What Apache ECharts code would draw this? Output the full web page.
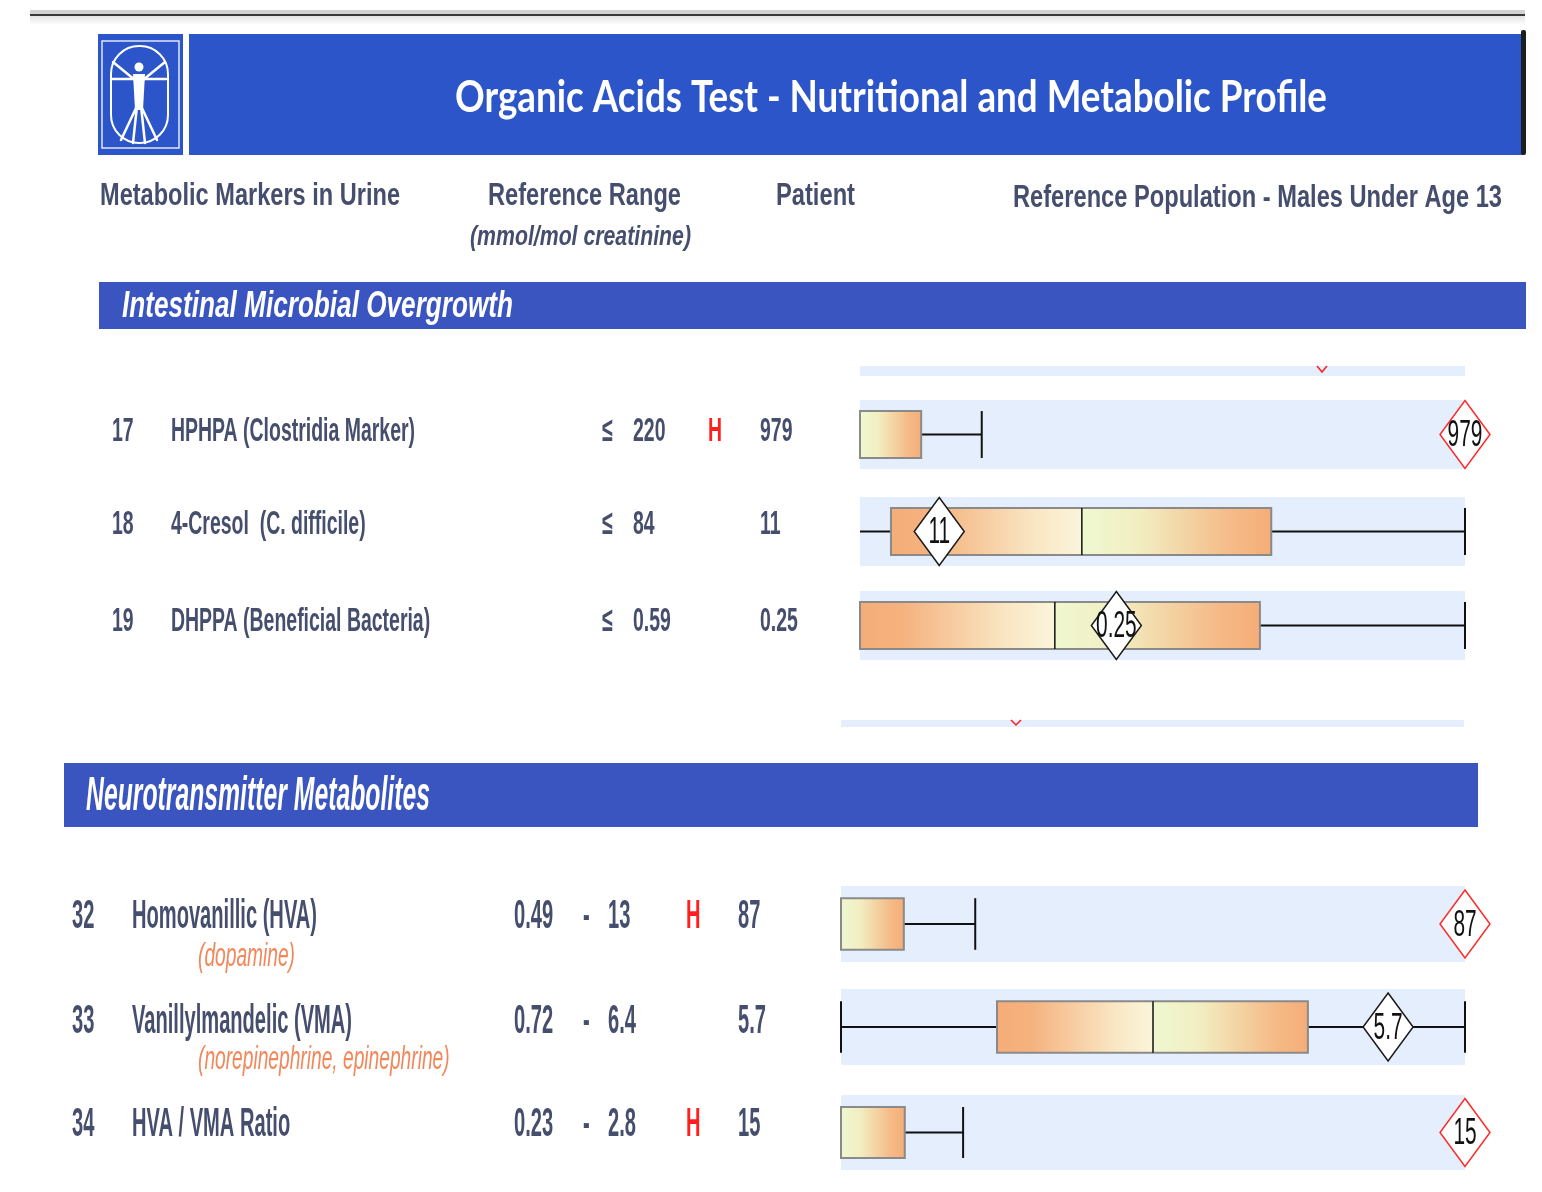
<!DOCTYPE html>
<html>
<head>
<meta charset="utf-8">
<script src="https://cdn.jsdelivr.net/npm/echarts@6/dist/echarts.min.js"></script>
<style>
html,body{margin:0;padding:0;background:#ffffff;}
#c{width:1542px;height:1192px;}
</style>
</head>
<body>
<div id="c"></div>
<script>
// ---------------- DATA ----------------
const reportTitle = 'Organic Acids Test - Nutritional and Metabolic Profile';
const colHeaders = ['Metabolic Markers in Urine', 'Reference Range', '(mmol/mol creatinine)', 'Patient', 'Reference Population - Males Under Age 13'];
const sectionTitles = ['Intestinal Microbial Overgrowth', 'Neurotransmitter Metabolites'];

// Intestinal Microbial Overgrowth
const intestinalNo = ['17', '18', '19'];
const intestinalNames = ['HPHPA (Clostridia Marker)', '4-Cresol  (C. difficile)', 'DHPPA (Beneficial Bacteria)'];
const intestinalRefHigh = ['220', '84', '0.59'];
const intestinalPatient = [979, 11, 0.25];
const intestinalFlag = ['H', '', ''];
const intestinalScaleMin = [0, 0, 0];
const intestinalScaleMax = [979, 84, 0.59];
// [whisker low, q1, median, q3, whisker high]
const intestinalBox = [
  [0, 0, 0, 99, 197],
  [0, 4.3, 30.8, 57.1, 84],
  [0, 0, 0.19, 0.39, 0.59]
];

// Neurotransmitter Metabolites
const neuroNo = ['32', '33', '34'];
const neuroNames = ['Homovanillic (HVA)', 'Vanillylmandelic (VMA)', 'HVA / VMA Ratio'];
const neuroSub = ['(dopamine)', '(norepinephrine, epinephrine)', ''];
const neuroRefLow = ['0.49', '0.72', '0.23'];
const neuroRefHigh = ['13', '6.4', '2.8'];
const neuroPatient = [87, 5.7, 15];
const neuroFlag = ['H', '', 'H'];
const neuroScaleMin = [0.49, 0.72, 0.23];
const neuroScaleMax = [87, 6.4, 15];
const neuroBox = [
  [0.49, 0.49, 0.49, 9.2, 19.1],
  [0.72, 2.14, 3.56, 4.97, 6.4],
  [0.23, 0.23, 0.23, 1.74, 3.12]
];

// ---------------- LAYOUT / STYLE ----------------
const INK = '#464e6e';
const BAND = '#2b55c8';
const SECTION = '#3a55c0';
const STRIP = '#e5eefc';
const RED = '#ff1f1f';
const SUBCOL = '#f2875a';
const FONT = '"Liberation Sans", Arial, sans-serif';

const mctx = document.createElement('canvas').getContext('2d');
function measure(text, font) { mctx.font = font; return mctx.measureText(text).width; }
function txt(text, x, y, font, fill, sx, align) {
  return {
    type: 'text', x: x, y: y, scaleX: sx, z: 20, silent: true,
    style: { text: text, font: font, fill: fill, textAlign: align || 'left', textVerticalAlign: 'middle', align: align || 'left', verticalAlign: 'middle' }
  };
}
function fit(text, x, y, width, font, fill) {
  return txt(text, x, y, font, fill, width / measure(text, font), 'left');
}

const graphics = [];
// top grey rule
graphics.push({ type: 'rect', shape: { x: 30, y: 10, width: 1495, height: 4 }, style: { fill: '#d2d2d2' }, silent: true });
graphics.push({ type: 'rect', shape: { x: 30, y: 14, width: 1495, height: 2 }, style: { fill: '#3a3a3a' }, silent: true });
graphics.push({ type: 'rect', shape: { x: 30, y: 16, width: 1495, height: 9 }, silent: true,
  style: { fill: new echarts.graphic.LinearGradient(0, 0, 0, 1, [{ offset: 0, color: '#e4e4e4' }, { offset: 1, color: '#ffffff' }]) } });

// header band
graphics.push({ type: 'rect', shape: { x: 98, y: 34, width: 85, height: 121 }, style: { fill: BAND }, silent: true });
graphics.push({ type: 'rect', shape: { x: 189, y: 34, width: 1334, height: 121 }, style: { fill: BAND }, silent: true });
graphics.push({ type: 'rect', shape: { x: 1521, y: 30, width: 5, height: 125, r: 2 }, style: { fill: '#1e1e1e' }, silent: true });
// logo
graphics.push({ type: 'rect', shape: { x: 102, y: 41, width: 77, height: 107 }, style: { fill: 'none', stroke: '#dfe6f7', lineWidth: 1.5 }, silent: true });
graphics.push({ type: 'rect', shape: { x: 111, y: 46, width: 57, height: 97, r: 28 }, style: { fill: 'none', stroke: '#ffffff', lineWidth: 2 }, silent: true });
graphics.push({ type: 'circle', shape: { cx: 139, cy: 67, r: 4.5 }, style: { fill: '#ffffff' }, silent: true });
const limbs = [[112, 79, 166, 79], [113, 62, 135, 80], [165, 62, 143, 80], [137, 106, 121, 140], [141, 106, 157, 140], [137, 106, 133, 143], [141, 106, 145, 143]];
limbs.forEach(l => graphics.push({ type: 'line', shape: { x1: l[0], y1: l[1], x2: l[2], y2: l[3] }, style: { stroke: '#ffffff', lineWidth: 2.5, lineCap: 'round' }, silent: true }));
graphics.push({ type: 'polygon', shape: { points: [[133, 74], [145, 74], [143, 110], [135, 110]] }, style: { fill: '#ffffff' }, silent: true });

// title
graphics.push(fit(reportTitle, 455, 98, 872, 'bold 44px Lato, sans-serif', '#ffffff'));

// column headers
const HF = 'bold 32px ' + FONT;
graphics.push(fit(colHeaders[0], 100, 196, 300, HF, INK));
graphics.push(fit(colHeaders[1], 488, 196, 193, HF, INK));
graphics.push(fit(colHeaders[2], 470, 237, 221, 'italic bold 28px ' + FONT, INK));
graphics.push(fit(colHeaders[3], 776, 196, 79, HF, INK));
graphics.push(fit(colHeaders[4], 1013, 198, 489, HF, INK));

// section bands
graphics.push({ type: 'rect', shape: { x: 99, y: 282, width: 1427, height: 47 }, style: { fill: SECTION }, silent: true });
graphics.push(fit(sectionTitles[0], 122, 307, 391, 'italic bold 36px ' + FONT, '#ffffff'));
graphics.push({ type: 'rect', shape: { x: 64, y: 763, width: 1414, height: 64 }, style: { fill: SECTION }, silent: true });
graphics.push(fit(sectionTitles[1], 86, 797, 344, 'italic bold 48px ' + FONT, '#ffffff'));

// partially visible neighbouring rows
graphics.push({ type: 'rect', shape: { x: 860, y: 366, width: 605, height: 10 }, style: { fill: STRIP }, silent: true });
graphics.push({ type: 'polyline', shape: { points: [[1317, 366], [1322, 372], [1327, 366]] }, style: { stroke: RED, lineWidth: 1.5, fill: 'none' }, silent: true });
graphics.push({ type: 'rect', shape: { x: 841, y: 720, width: 623, height: 7 }, style: { fill: STRIP }, silent: true });
graphics.push({ type: 'polyline', shape: { points: [[1011, 720], [1016, 725], [1021, 720]] }, style: { stroke: RED, lineWidth: 1.5, fill: 'none' }, silent: true });

// intestinal rows text
const IF = 'bold 34px ' + FONT;
const sxI = 244 / measure(intestinalNames[0], IF);
const rowYI = [432, 525, 622];
intestinalNo.forEach((no, i) => {
  const y = rowYI[i];
  graphics.push(txt(no, 112, y, IF, INK, sxI));
  graphics.push(txt(intestinalNames[i], 171, y, IF, INK, sxI));
  graphics.push(txt('\u2264', 602, y, IF, INK, sxI));
  graphics.push(txt(intestinalRefHigh[i], 633, y, IF, INK, sxI));
  if (intestinalFlag[i]) graphics.push(txt(intestinalFlag[i], 708, y, IF, RED, sxI));
  graphics.push(txt(String(intestinalPatient[i]), 760, y, IF, INK, sxI));
});

// neuro rows text
const NF = 'bold 40px ' + FONT;
const sxN = 185 / measure(neuroNames[0], NF);
const SF = 'italic 34px ' + FONT;
const sxS = 97 / measure(neuroSub[0], SF);
const rowYN = [917, 1022, 1125];
const subYN = [957, 1060, 0];
neuroNo.forEach((no, i) => {
  const y = rowYN[i];
  graphics.push(txt(no, 72, y, NF, INK, sxN));
  graphics.push(txt(neuroNames[i], 132, y, NF, INK, sxN));
  if (neuroSub[i]) graphics.push(txt(neuroSub[i], 198, subYN[i], SF, SUBCOL, sxS));
  graphics.push(txt(neuroRefLow[i], 514, y, NF, INK, sxN));
  graphics.push(txt('-', 583, y, NF, INK, sxN));
  graphics.push(txt(neuroRefHigh[i], 608, y, NF, INK, sxN));
  if (neuroFlag[i]) graphics.push(txt(neuroFlag[i], 686, y, NF, RED, sxN));
  graphics.push(txt(String(neuroPatient[i]), 738, y, NF, INK, sxN));
});

// ---------------- CHART ROWS ----------------
const stripRects = [
  { left: 860, top: 400, width: 605, height: 69 },
  { left: 860, top: 497, width: 605, height: 69 },
  { left: 860, top: 591, width: 605, height: 69 },
  { left: 841, top: 886, width: 624, height: 76 },
  { left: 841, top: 989, width: 624, height: 76 },
  { left: 841, top: 1095, width: 624, height: 75 }
];
const rows = [];
intestinalNo.forEach((no, i) => rows.push({
  min: intestinalScaleMin[i], max: intestinalScaleMax[i], box: intestinalBox[i],
  patient: intestinalPatient[i], high: intestinalFlag[i] === 'H' ? 1 : 0, lowTick: 0
}));
neuroNo.forEach((no, i) => rows.push({
  min: neuroScaleMin[i], max: neuroScaleMax[i], box: neuroBox[i],
  patient: neuroPatient[i], high: neuroFlag[i] === 'H' ? 1 : 0, lowTick: 1
}));

const gradLeft = () => new echarts.graphic.LinearGradient(0, 0, 1, 0, [
  { offset: 0, color: '#f5ad78' }, { offset: 0.22, color: '#f5b27f' }, { offset: 0.75, color: '#f9e6c3' }, { offset: 1, color: '#fbf5da' }]);
const gradRight = () => new echarts.graphic.LinearGradient(0, 0, 1, 0, [
  { offset: 0, color: '#eff8d0' }, { offset: 0.3, color: '#f2eec2' }, { offset: 0.78, color: '#f5bb88' }, { offset: 1, color: '#f5ad78' }]);

const DW = 25, DH = 34, BOX_FRAC = 0.68;
const LBL_FONT = '36px ' + FONT;
function renderRow(params, api) {
  const v = k => api.value(k);
  const wl = v(0), q1 = v(1), md = v(2), q3 = v(3), wh = v(4), pv = v(5), hi = v(6), lowTick = v(7);
  const X = x => api.coord([x, 0])[0];
  const yc = api.coord([q1, 0])[1];
  const half = api.size([0, 1])[1] * BOX_FRAC;
  const kids = [];
  const ln = (x1, y1, x2, y2, w) => ({ type: 'line', shape: { x1: x1, y1: y1, x2: x2, y2: y2 }, style: { stroke: '#111111', lineWidth: w || 2 } });
  if (wl < q1) kids.push(ln(X(wl), yc, X(q1), yc));
  if (wh > q3) kids.push(ln(X(q3), yc, X(wh), yc));
  if (lowTick) kids.push(ln(X(wl), yc - half, X(wl), yc + half));
  kids.push(ln(X(wh), yc - half, X(wh), yc + half));
  if (md > q1) kids.push({ type: 'rect', shape: { x: X(q1), y: yc - half, width: X(md) - X(q1), height: 2 * half }, style: { fill: gradLeft() } });
  if (q3 > md) kids.push({ type: 'rect', shape: { x: X(md), y: yc - half, width: X(q3) - X(md), height: 2 * half }, style: { fill: gradRight() } });
  kids.push({ type: 'rect', shape: { x: X(q1), y: yc - half, width: X(q3) - X(q1), height: 2 * half }, style: { fill: 'none', stroke: '#8a8a8a', lineWidth: 2 } });
  if (md > q1) kids.push(ln(X(md), yc - half, X(md), yc + half, 1.5));
  const dx = X(pv);
  kids.push({ type: 'polygon', shape: { points: [[dx, yc - DH], [dx + DW, yc], [dx, yc + DH], [dx - DW, yc]] },
    style: { fill: '#ffffff', stroke: hi ? '#ff2a2a' : '#1a1a1a', lineWidth: 1.5 } });
  kids.push({ type: 'text', x: dx, y: yc + 2, scaleX: 0.58,
    style: { text: String(pv), font: LBL_FONT, fill: '#111111', textAlign: 'center', textVerticalAlign: 'middle', align: 'center', verticalAlign: 'middle' } });
  return { type: 'group', children: kids };
}

const option = {
  backgroundColor: '#ffffff',
  animation: false,
  grid: stripRects.map(r => ({ left: r.left, top: r.top, width: r.width, height: r.height, show: true, backgroundColor: STRIP, borderWidth: 0 })),
  xAxis: rows.map((r, i) => ({ gridIndex: i, type: 'value', min: r.min, max: r.max, show: false })),
  yAxis: rows.map((r, i) => ({ gridIndex: i, type: 'value', min: -1, max: 1, show: false })),
  series: rows.map((r, i) => ({
    type: 'custom', xAxisIndex: i, yAxisIndex: i, silent: true, clip: false, z: 5,
    data: [[r.box[0], r.box[1], r.box[2], r.box[3], r.box[4], r.patient, r.high, r.lowTick]],
    renderItem: renderRow
  })),
  graphic: graphics
};

const chart = echarts.init(document.getElementById('c'));
chart.setOption(option);
</script>
</body>
</html>
